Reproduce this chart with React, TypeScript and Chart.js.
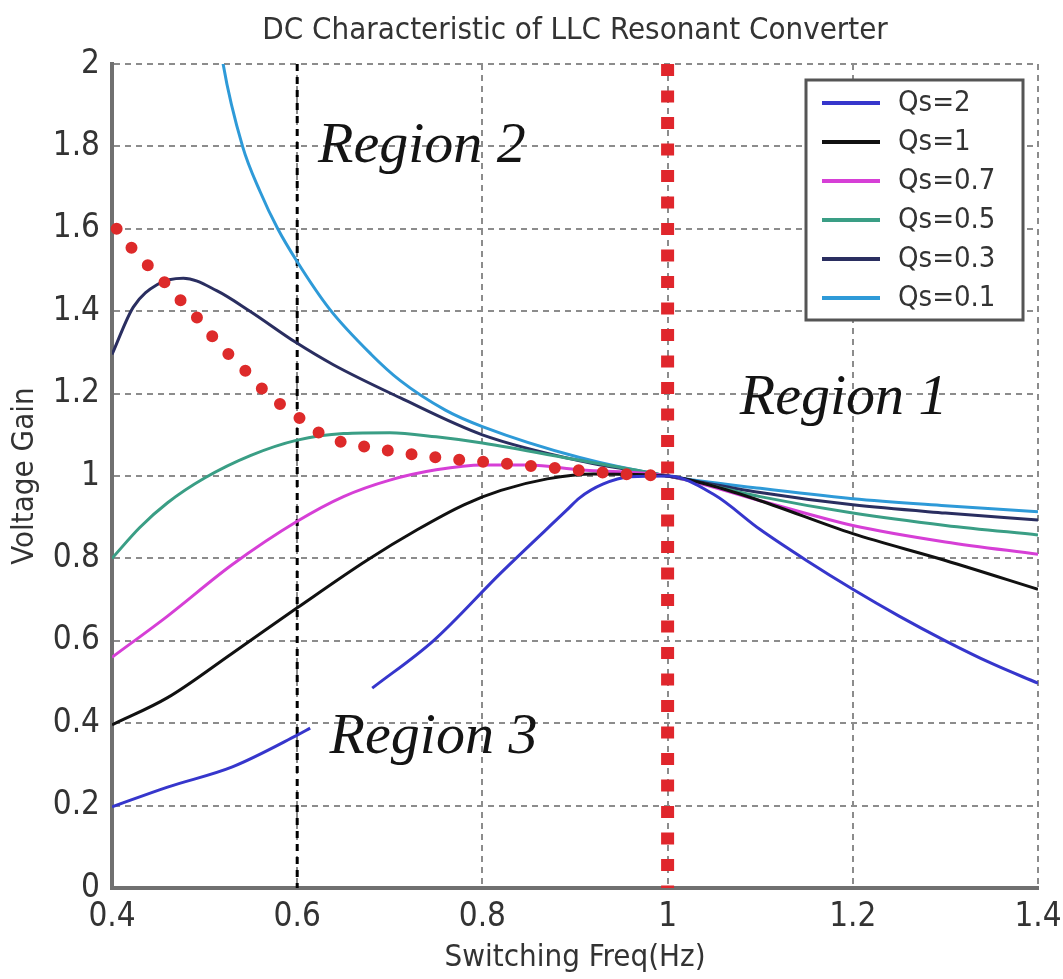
import React, { useEffect, useRef } from 'react';
import { Chart, registerables } from 'chart.js';

Chart.register(...registerables);

const FONT = "'Liberation Sans Narrow', 'Arial Narrow', 'DejaVu Sans Condensed', sans-serif";
const SERIF = "'Liberation Serif', 'Times New Roman', serif";

const chartTitle = 'DC Characteristic of LLC Resonant Converter';
const xAxisTitle = 'Switching Freq(Hz)';
const yAxisTitle = 'Voltage Gain';

const xTicks = [0.4, 0.6, 0.8, 1.0, 1.2, 1.4];
const xTickLabels = ['0.4', '0.6', '0.8', '1', '1.2', '1.4'];
const yTicks = [0, 0.2, 0.4, 0.6, 0.8, 1.0, 1.2, 1.4, 1.6, 1.8, 2.0];
const yTickLabels = ['0', '0.2', '0.4', '0.6', '0.8', '1', '1.2', '1.4', '1.6', '1.8', '2'];

const seriesLabels = ['Qs=2', 'Qs=1', 'Qs=0.7', 'Qs=0.5', 'Qs=0.3', 'Qs=0.1'];
const seriesColors = ['#3636CC', '#111111', '#D63FD6', '#3A9E85', '#2A2E60', '#2E9AD8'];

const qs2Freq = [0.4, 0.46, 0.53, 0.6, 0.614, 0.648, 0.681, 0.747, 0.82, 0.891, 0.905, 0.93, 0.96, 1.0, 1.05, 1.1, 1.15, 1.2, 1.25, 1.3, 1.35, 1.4];
const qs2Gain = [0.197, 0.245, 0.294, 0.371, 0.388, null, 0.485, 0.6, 0.765, 0.917, 0.947, 0.98, 0.998, 1.0, 0.955, 0.87, 0.795, 0.725, 0.66, 0.6, 0.545, 0.497];

const qs1Freq = [0.4, 0.46, 0.53, 0.6, 0.675, 0.73, 0.78, 0.82, 0.87, 0.92, 1.0, 1.05, 1.1, 1.2, 1.3, 1.4];
const qs1Gain = [0.396, 0.462, 0.57, 0.68, 0.795, 0.87, 0.93, 0.965, 0.993, 1.005, 1.0, 0.975, 0.94, 0.86, 0.795, 0.725];

const qs07Freq = [0.4, 0.46, 0.53, 0.6, 0.65, 0.7, 0.75, 0.8, 0.85, 0.905, 1.0, 1.1, 1.2, 1.3, 1.4];
const qs07Gain = [0.56, 0.66, 0.785, 0.89, 0.95, 0.99, 1.015, 1.027, 1.027, 1.015, 1.0, 0.94, 0.88, 0.84, 0.81];

const qs05Freq = [0.4, 0.43, 0.46, 0.5, 0.55, 0.6, 0.65, 0.7, 0.75, 0.8, 0.905, 1.0, 1.1, 1.2, 1.3, 1.4];
const qs05Gain = [0.8, 0.875, 0.935, 0.995, 1.05, 1.087, 1.103, 1.105, 1.095, 1.08, 1.038, 1.0, 0.95, 0.91, 0.88, 0.857];

const qs03Freq = [0.4, 0.423, 0.449, 0.477, 0.513, 0.549, 0.598, 0.639, 0.711, 0.8, 0.905, 1.0, 1.1, 1.2, 1.3, 1.4];
const qs03Gain = [1.295, 1.41, 1.465, 1.48, 1.45, 1.4, 1.325, 1.27, 1.19, 1.1, 1.037, 1.0, 0.96, 0.93, 0.91, 0.893];

const qs01Freq = [0.514, 0.52, 0.541, 0.56, 0.579, 0.6, 0.635, 0.68, 0.711, 0.76, 0.8, 0.905, 1.0, 1.1, 1.2, 1.3, 1.4];
const qs01Gain = [2.1, 2.0, 1.8, 1.69, 1.6, 1.52, 1.405, 1.295, 1.232, 1.16, 1.12, 1.045, 1.0, 0.97, 0.945, 0.928, 0.913];

const boundaryFreq = [0.405, 0.43, 0.449, 0.468, 0.486, 0.504, 0.524, 0.542, 0.563, 0.584, 0.603, 0.627, 0.652, 0.676, 0.703, 0.75, 0.8, 0.85, 0.9, 0.95, 1.0];
const boundaryGain = [1.6, 1.53, 1.49, 1.44, 1.4, 1.35, 1.3, 1.26, 1.21, 1.17, 1.14, 1.1, 1.08, 1.07, 1.06, 1.045, 1.035, 1.025, 1.015, 1.005, 1.0];

const resonanceFreq = [1.0, 1.0];
const resonanceGain = [2.0, 0.0];

const region3BorderFreq = [0.6, 0.6];
const region3BorderGain = [2.0, 0.0];

const regionLabels = ['Region 2', 'Region 1', 'Region 3'];
const regionFreq = [0.6225, 1.078, 0.635];
const regionGain = [1.762, 1.15, 0.328];

const toPoints = (xs: number[], ys: (number | null)[]) => xs.map((x, i) => ({ x, y: ys[i] }));

const seriesData = [
  toPoints(qs2Freq, qs2Gain),
  toPoints(qs1Freq, qs1Gain),
  toPoints(qs07Freq, qs07Gain),
  toPoints(qs05Freq, qs05Gain),
  toPoints(qs03Freq, qs03Gain),
  toPoints(qs01Freq, qs01Gain),
];

const titlePlugin = {
  id: 'plotTitle',
  afterDraw(chart: any) {
    const { ctx, chartArea } = chart;
    ctx.save();
    ctx.font = `31px ${FONT}`;
    ctx.fillStyle = '#333333';
    ctx.textAlign = 'center';
    ctx.textBaseline = 'middle';
    ctx.fillText(chartTitle, (chartArea.left + chartArea.right) / 2, 31);
    ctx.restore();
  },
};

const overlayPlugin = {
  id: 'overlay',
  afterDatasetsDraw(chart: any) {
    const { ctx, chartArea, scales } = chart;
    const xs = scales.x;
    const ys = scales.y;
    ctx.save();
    // Region annotations
    ctx.font = `italic 58px ${SERIF}`;
    ctx.fillStyle = '#141414';
    ctx.textAlign = 'left';
    ctx.textBaseline = 'alphabetic';
    regionLabels.forEach((t, i) => {
      ctx.fillText(t, xs.getPixelForValue(regionFreq[i]), ys.getPixelForValue(regionGain[i]));
    });
    // Legend box
    const bw = 217;
    const bh = 240;
    const bx = chartArea.right - 15 - bw;
    const by = chartArea.top + 16;
    ctx.fillStyle = '#ffffff';
    ctx.fillRect(bx, by, bw, bh);
    ctx.lineWidth = 3;
    ctx.strokeStyle = '#555555';
    ctx.strokeRect(bx, by, bw, bh);
    ctx.font = `29px ${FONT}`;
    ctx.textBaseline = 'middle';
    seriesLabels.forEach((lab, i) => {
      const yy = by + 23 + i * 39;
      ctx.beginPath();
      ctx.strokeStyle = seriesColors[i];
      ctx.lineWidth = 4;
      ctx.moveTo(bx + 16, yy);
      ctx.lineTo(bx + 74, yy);
      ctx.stroke();
      ctx.fillStyle = '#333333';
      ctx.fillText(lab, bx + 92, yy);
    });
    ctx.restore();
  },
};

export default function App() {
  const canvasRef = useRef<HTMLCanvasElement | null>(null);

  useEffect(() => {
    if (!canvasRef.current) return;
    const curveSets = seriesLabels.map((label, i) => ({
      label,
      data: seriesData[i],
      borderColor: seriesColors[i],
      backgroundColor: seriesColors[i],
      borderWidth: 3,
      pointRadius: 0,
      cubicInterpolationMode: 'monotone',
      spanGaps: false,
      clip: 0,
      order: 2 + i,
    }));

    const chart = new Chart(canvasRef.current, {
      type: 'line',
      data: {
        datasets: [
          {
            label: 'resonance',
            data: toPoints(resonanceFreq, resonanceGain),
            borderColor: '#E0262C',
            borderWidth: 13,
            borderDash: [12, 14.5],
            borderCapStyle: 'butt',
            pointRadius: 0,
            clip: 8,
            order: 0,
          },
          {
            label: 'boundary',
            data: toPoints(boundaryFreq, boundaryGain),
            borderColor: '#DD2A2A',
            borderWidth: 12,
            borderDash: [0, 24],
            borderCapStyle: 'round',
            cubicInterpolationMode: 'monotone',
            pointRadius: 0,
            clip: 8,
            order: 1,
          },
          ...curveSets,
          {
            label: 'border06',
            data: toPoints(region3BorderFreq, region3BorderGain),
            borderColor: '#000000',
            borderWidth: 3,
            borderDash: [7, 6],
            pointRadius: 0,
            clip: 2,
            order: 20,
          },
        ] as any,
      },
      options: {
        responsive: false,
        animation: false,
        devicePixelRatio: 1,
        events: [],
        layout: { padding: { top: 64, right: 25, bottom: 0, left: 0 } },
        plugins: {
          legend: { display: false },
          tooltip: { enabled: false },
          title: { display: false },
        },
        scales: {
          x: {
            type: 'linear',
            min: 0.4,
            max: 1.4,
            afterBuildTicks: (s: any) => {
              s.ticks = xTicks.map((v) => ({ value: v }));
            },
            afterFit: (s: any) => {
              s.height = 91;
              s.paddingLeft = 0;
              s.paddingRight = 0;
            },
            ticks: {
              autoSkip: false,
              maxRotation: 0,
              padding: 10,
              color: '#333333',
              font: { family: FONT, size: 33, lineHeight: 1.2 },
              callback: (_v: any, i: number) => xTickLabels[i],
            },
            grid: { color: '#8c8c8c', lineWidth: 2, drawTicks: false },
            border: { display: true, color: '#707070', width: 4, dash: [6, 5] },
            title: {
              display: true,
              text: xAxisTitle,
              color: '#333333',
              font: { family: FONT, size: 31, lineHeight: 1.2 },
              padding: { top: 0, bottom: 2 },
            },
          },
          y: {
            type: 'linear',
            min: 0,
            max: 2,
            afterBuildTicks: (s: any) => {
              s.ticks = yTicks.map((v) => ({ value: v }));
            },
            afterFit: (s: any) => {
              s.width = 112;
              s.paddingTop = 0;
              s.paddingBottom = 0;
            },
            ticks: {
              autoSkip: false,
              padding: 12,
              color: '#333333',
              font: { family: FONT, size: 33, lineHeight: 1.2 },
              callback: (_v: any, i: number) => yTickLabels[i],
            },
            grid: { color: '#8c8c8c', lineWidth: 2, drawTicks: false },
            border: { display: true, color: '#707070', width: 4, dash: [6, 5] },
            title: {
              display: true,
              text: yAxisTitle,
              color: '#333333',
              font: { family: FONT, size: 31, lineHeight: 1.2 },
              padding: { top: 6, bottom: 0 },
            },
          },
        },
      } as any,
      plugins: [overlayPlugin, titlePlugin],
    });
    return () => chart.destroy();
  }, []);

  return (
    <div style={{ position: 'fixed', left: 0, top: 0, width: 1063, height: 979, background: '#ffffff' }}>
      <canvas ref={canvasRef} width={1063} height={979} style={{ width: 1063, height: 979, display: 'block' }} />
    </div>
  );
}
